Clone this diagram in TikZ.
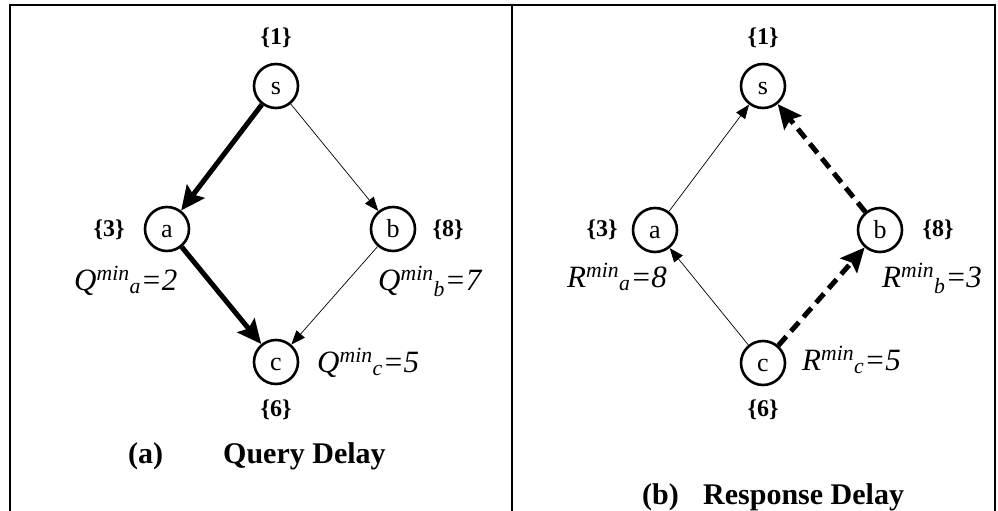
\documentclass[tikz,border=0pt]{standalone}
\usepackage{fontspec}
\setmainfont{Liberation Serif}
\usetikzlibrary{arrows.meta}

\tikzset{
  vertex/.style={circle,draw,line width=2.6pt,minimum size=44pt,inner sep=0pt,text height=16pt,text depth=0pt,font=\fontsize{26}{26}\selectfont},
  cost/.style={font=\bfseries\fontsize{24}{24}\selectfont},
  delay/.style={anchor=base west,inner sep=0pt,font=\itshape\fontsize{31}{31}\selectfont},
  caption/.style={anchor=base west,inner sep=0pt,font=\bfseries\fontsize{30}{30}\selectfont},
  thin edge/.style={line width=0.7pt,-{Triangle[length=14pt,width=11pt]}},
  thick edge/.style={line width=5pt,-{Stealth[length=24pt,width=22pt,inset=4pt]}},
  dash edge/.style={thick edge,dash pattern=on 12pt off 7pt}
}

\begin{document}
\begin{tikzpicture}[x=1pt,y=-1pt]
            \useasboundingbox (0,0) rectangle (998,511);
            \draw[line width=2pt] (10,511) |- (995,5) -- (995,511);
            \draw[line width=2pt] (512,5) -- (512,511);

            \node[vertex] (s1) at (276,86) {s};
            \node[vertex] (a1) at (167,229) {a};
            \node[vertex] (b1) at (393,229) {b};
            \node[vertex] (c1) at (276,362) {c};
            \node[cost] (w1s) at (276,38) {\{1\}};
            \node[cost] (w1a) at (109,230) {\{3\}};
            \node[cost] (w1b) at (448,230) {\{8\}};
            \node[cost] (w1c) at (276,410) {\{6\}};
            \node[delay] (q1a) at (74,290) {Q\textsuperscript{min}\textsubscript{a}=2};
            \node[delay] (q1b) at (378,290) {Q\textsuperscript{min}\textsubscript{b}=7};
            \node[delay] (q1c) at (317,372) {Q\textsuperscript{min}\textsubscript{c}=5};
            \node[caption] (t1a) at (128,463) {(a)};
            \node[caption] (t1b) at (223,463) {Query Delay};
            \draw[thick edge] (s1) -- (a1);
            \draw[thick edge] (a1) -- (c1);
            \draw[thin edge] (s1) -- (b1);
            \draw[thin edge] (b1) -- (c1);

            \node[vertex] (s2) at (763,86) {s};
            \node[vertex] (a2) at (655,230) {a};
            \node[vertex] (b2) at (880,230) {b};
            \node[vertex] (c2) at (763,363) {c};
            \node[cost] (w2s) at (763,38) {\{1\}};
            \node[cost] (w2a) at (602,230) {\{3\}};
            \node[cost] (w2b) at (938,230) {\{8\}};
            \node[cost] (w2c) at (763,410) {\{6\}};
            \node[delay] (r2a) at (567,287) {R\textsuperscript{min}\textsubscript{a}=8};
            \node[delay] (r2b) at (882,287) {R\textsuperscript{min}\textsubscript{b}=3};
            \node[delay] (r2c) at (802,370) {R\textsuperscript{min}\textsubscript{c}=5};
            \node[caption] (t2a) at (642,504) {(b)};
            \node[caption] (t2b) at (703,504) {Response Delay};
            \draw[thin edge] (a2) -- (s2);
            \draw[thin edge] (c2) -- (a2);
            \draw[dash edge] (b2) -- (s2);
            \draw[dash edge] (c2) -- (b2);
        \end{tikzpicture}
\end{document}
